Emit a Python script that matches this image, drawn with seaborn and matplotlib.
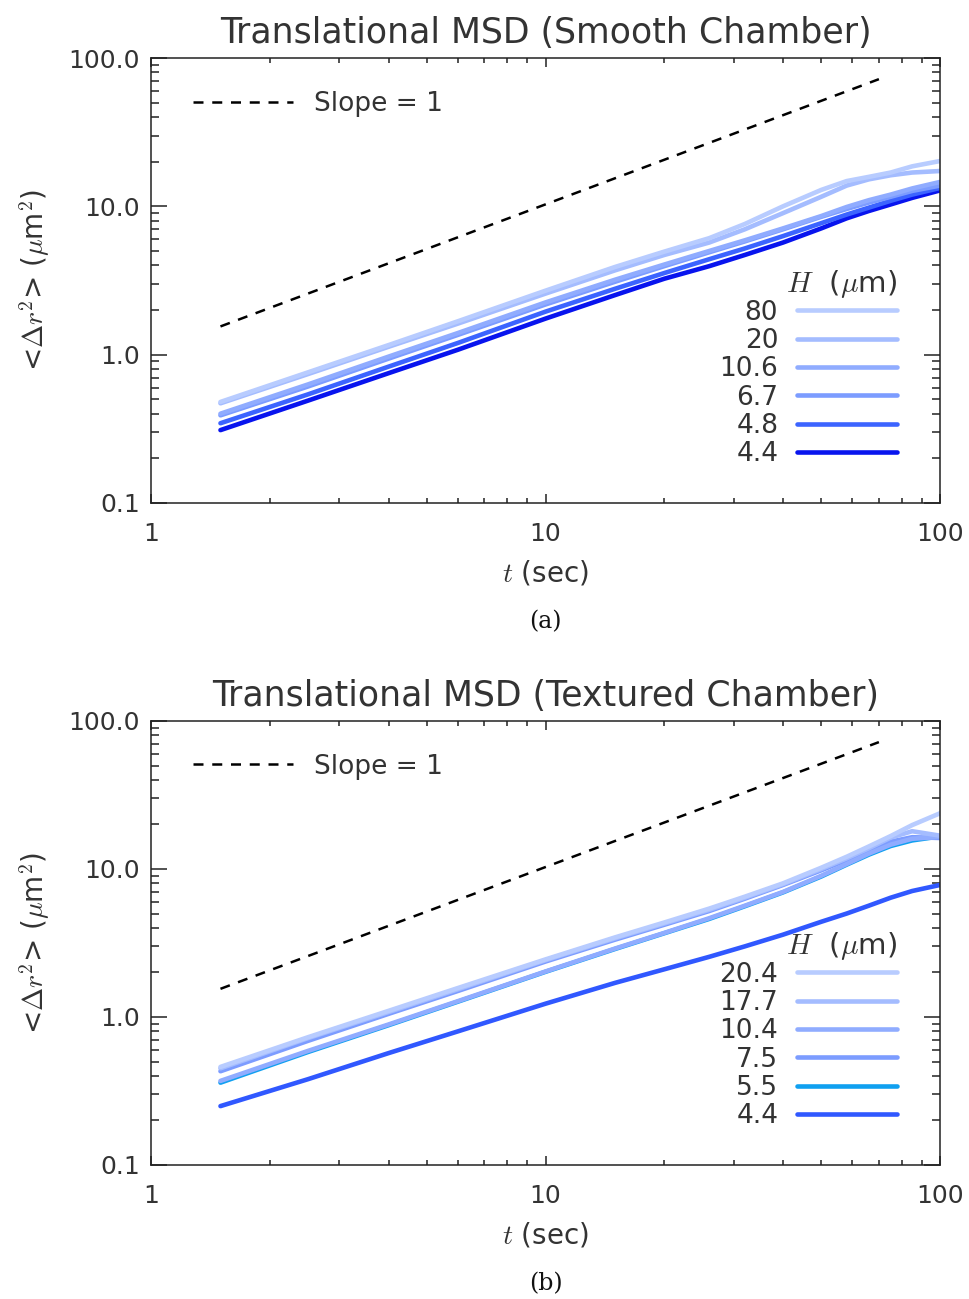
import numpy as np
import pandas as pd
import matplotlib
matplotlib.use("Agg")
import matplotlib.pyplot as plt
from matplotlib.lines import Line2D
from matplotlib.ticker import FixedLocator, FixedFormatter, LogLocator, NullFormatter
import seaborn as sns

# ---------------- data ----------------
t_grid = [1.5, 2.5, 4, 6, 10, 15, 20, 26, 32, 40, 50, 58, 66, 75, 85, 100]

smooth_labels = ["80", "20", "10.6", "6.7", "4.8", "4.4"]
smooth_80 = [0.48, 0.76, 1.16, 1.68, 2.70, 3.90, 4.95, 6.1, 7.6, 10.0, 12.9, 14.8, 15.8, 16.9, 18.6, 20.2]
smooth_20 = [0.47, 0.74, 1.13, 1.62, 2.58, 3.70, 4.70, 5.7, 7.0, 9.0, 11.6, 13.8, 15.2, 16.2, 16.9, 17.3]
smooth_106 = [0.40, 0.63, 0.97, 1.40, 2.25, 3.20, 4.05, 5.0, 5.9, 7.1, 8.6, 9.9, 11.0, 12.0, 13.2, 14.6]
smooth_67 = [0.39, 0.61, 0.94, 1.36, 2.18, 3.10, 3.95, 4.9, 5.8, 7.0, 8.5, 9.6, 10.6, 11.6, 12.7, 13.8]
smooth_48 = [0.345, 0.54, 0.83, 1.20, 1.95, 2.78, 3.55, 4.4, 5.2, 6.3, 7.7, 8.8, 9.8, 10.9, 12.0, 13.3]
smooth_44 = [0.31, 0.49, 0.75, 1.08, 1.75, 2.52, 3.25, 3.95, 4.7, 5.7, 7.1, 8.3, 9.3, 10.3, 11.4, 12.8]
smooth_series = [smooth_80, smooth_20, smooth_106, smooth_67, smooth_48, smooth_44]
smooth_colors = ["#b8ccff", "#a4bcff", "#90acff", "#7c9cff", "#3c64ff", "#0814ee"]

textured_labels = ["20.4", "17.7", "10.4", "7.5", "5.5", "4.4"]
tex_204 = [0.46, 0.73, 1.10, 1.57, 2.45, 3.45, 4.35, 5.4, 6.5, 8.0, 10.2, 12.1, 14.2, 16.7, 19.8, 23.8]
tex_177 = [0.45, 0.72, 1.08, 1.54, 2.42, 3.40, 4.28, 5.3, 6.4, 7.9, 10.0, 11.8, 13.8, 16.3, 18.0, 16.8]
tex_104 = [0.37, 0.59, 0.89, 1.28, 2.03, 2.90, 3.70, 4.65, 5.65, 7.0, 9.0, 10.8, 12.7, 14.6, 16.0, 16.5]
tex_75 = [0.43, 0.69, 1.05, 1.50, 2.37, 3.33, 4.20, 5.2, 6.3, 7.8, 9.8, 11.5, 13.3, 15.3, 16.4, 16.2]
tex_55 = [0.36, 0.58, 0.88, 1.27, 2.02, 2.88, 3.68, 4.6, 5.6, 6.95, 8.9, 10.7, 12.5, 14.3, 15.6, 16.6]
tex_44 = [0.25, 0.38, 0.57, 0.80, 1.23, 1.70, 2.10, 2.55, 3.00, 3.60, 4.40, 5.00, 5.65, 6.40, 7.10, 7.8]
textured_series = [tex_204, tex_177, tex_104, tex_75, tex_55, tex_44]
textured_colors = ["#b8ccff", "#a4bcff", "#90acff", "#7c9cff", "#10a0f0", "#3058ff"]

slope_t = [1.5, 70]
slope_y = [1.55, 72]

x_ticks = [1, 10, 100]
x_ticklabels = ["1", "10", "100"]
y_ticks = [0.1, 1, 10, 100]
y_ticklabels = ["0.1", "1.0", "10.0", "100.0"]

titles = ["Translational MSD (Smooth Chamber)", "Translational MSD (Textured Chamber)"]
captions = ["(a)", "(b)"]

# ---------------- style ----------------
sns.set_style("ticks")
plt.rcParams["font.family"] = ["DejaVu Sans"]
plt.rcParams["mathtext.fontset"] = "cm"
plt.rcParams["axes.linewidth"] = 1.1

fig = plt.figure(figsize=(9.69, 12.99), dpi=100)
ax_a = fig.add_axes([151 / 969, 1 - 503 / 1299, 789 / 969, 445 / 1299])
ax_b = fig.add_axes([151 / 969, 1 - 1165 / 1299, 789 / 969, 444 / 1299])

LW = 3.3


def draw_panel(ax, labels, series, colors, title, caption):
    rows = []
    for lab, vals in zip(labels, series):
        for t, v in zip(t_grid, vals):
            rows.append({"t": t, "msd": v, "H": lab})
    df = pd.DataFrame(rows)
    # draw darker series first so lighter ones sit on top
    order = labels[::-1]
    sns.lineplot(data=df, x="t", y="msd", hue="H", hue_order=order,
                 palette=dict(zip(labels, colors)), linewidth=LW,
                 ax=ax, legend=False, estimator=None)
    slope_df = pd.DataFrame({"t": slope_t, "msd": slope_y})
    sns.lineplot(data=slope_df, x="t", y="msd", color="black", linewidth=1.8,
                 linestyle=(0, (4, 3.5)), ax=ax, legend=False, estimator=None)

    ax.set_xscale("log")
    ax.set_yscale("log")
    ax.set_xlim(1, 100)
    ax.set_ylim(0.1, 100)

    ax.xaxis.set_major_locator(FixedLocator(x_ticks))
    ax.xaxis.set_major_formatter(FixedFormatter(x_ticklabels))
    ax.xaxis.set_minor_locator(LogLocator(base=10, subs=np.arange(2, 10)))
    ax.xaxis.set_minor_formatter(NullFormatter())
    ax.yaxis.set_major_locator(FixedLocator(y_ticks))
    ax.yaxis.set_major_formatter(FixedFormatter(y_ticklabels))
    ax.yaxis.set_minor_locator(LogLocator(base=10, subs=np.arange(2, 10)))
    ax.yaxis.set_minor_formatter(NullFormatter())

    ax.tick_params(axis="both", which="both", direction="in", top=True, right=True,
                   colors="#222222", width=1.1, labelcolor="#333333")
    ax.tick_params(axis="x", which="major", length=6.5, pad=14, labelsize=18)
    ax.tick_params(axis="x", which="minor", length=3.3)
    ax.tick_params(axis="y", which="major", length=11.5, pad=8, labelsize=18)
    ax.tick_params(axis="y", which="minor", length=5.8)
    for sp in ax.spines.values():
        sp.set_color("#222222")

    ax.set_xlabel(r"$t$ (sec)", fontsize=20, color="#333333", labelpad=9)
    ax.set_ylabel(r"<$\Delta r^2$> ($\mu$m$^2$)", fontsize=20, color="#333333", labelpad=12)
    ax.set_title(title, fontsize=25, color="#333333", pad=11)

    # slope legend
    h_slope = [Line2D([], [], color="black", linewidth=1.8, linestyle=(0, (4, 3.5)))]
    leg1 = ax.legend(h_slope, ["Slope = 1"], loc="center left", bbox_to_anchor=(0.053, 0.897),
                     frameon=False, fontsize=19, handlelength=3.8, handletextpad=0.8,
                     borderpad=0, borderaxespad=0, labelcolor="#333333")
    ax.add_artist(leg1)

    # H legend
    handles = [Line2D([], [], color=c, linewidth=LW) for c in colors]
    leg2 = ax.legend(handles, labels, loc="lower right", bbox_to_anchor=(0.9455, 0.08),
                     frameon=False, fontsize=19, handlelength=3.8, handletextpad=0.7,
                     labelspacing=0.09, borderpad=0, borderaxespad=0, markerfirst=False,
                     title=r"$H$  ($\mu$m)", title_fontsize=21, alignment="right",
                     labelcolor="#333333")
    leg2.get_title().set_color("#333333")
    leg2._legend_box.sep = 0

    ax.text(0.5, -0.267, caption, transform=ax.transAxes, ha="center", va="center",
            fontsize=17, family="DejaVu Serif", color="#111111")


draw_panel(ax_a, smooth_labels, smooth_series, smooth_colors, titles[0], captions[0])
draw_panel(ax_b, textured_labels, textured_series, textured_colors, titles[1], captions[1])

fig.savefig("out.png", dpi=100, facecolor="white")
